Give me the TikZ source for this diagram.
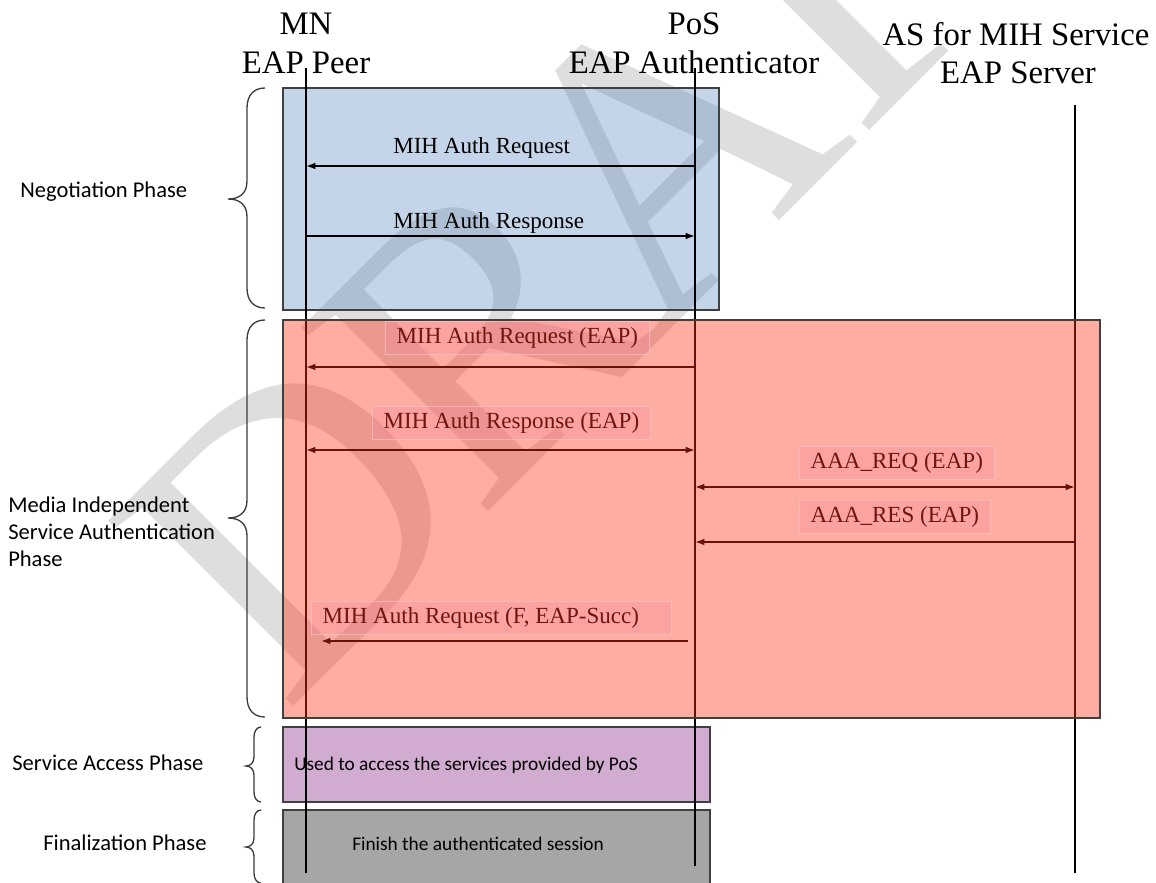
\documentclass[tikz,border=0pt]{standalone}
\usepackage{fontspec}
\setmainfont{Liberation Serif}
\newfontfamily\phasefont{Carlito}
\usetikzlibrary{arrows.meta}

\definecolor{boxedge}{RGB}{64,64,64}
\definecolor{wmgray}{RGB}{222,222,222}
\definecolor{negblue}{RGB}{79,129,189}
\definecolor{authred}{RGB}{255,50,25}
\definecolor{accesspurple}{RGB}{210,172,208}
\definecolor{finalgray}{RGB}{166,166,166}
\definecolor{lblfill}{RGB}{243,133,159}
\definecolor{lbledge}{RGB}{255,207,207}
\definecolor{darkred}{RGB}{110,22,16}
\definecolor{braceclr}{RGB}{60,60,60}

\begin{document}
\begin{tikzpicture}[x=0.75pt,y=-0.75pt,
  head/.style={anchor=base, inner sep=0, font=\fontsize{24.6}{28}\selectfont},
  phase/.style={anchor=base west, inner sep=0, align=left,
    font=\phasefont\fontsize{16.9}{20.25}\selectfont},
  note/.style={anchor=base west, inner sep=0, font=\phasefont\fontsize{14.5}{17}\selectfont},
  msgtxt/.style={anchor=base west, inner sep=0, font=\fontsize{17.3}{20}\selectfont},
  msglbl/.style={anchor=base west, inner xsep=8.5pt, inner ysep=4.5pt,
    fill=lblfill, fill opacity=0.25, draw=lbledge, draw opacity=0.5,
    text opacity=1, text=darkred, font=\fontsize{17.3}{20}\selectfont},
  watermark/.style={rotate=45, anchor=base west, inner sep=0, text=wmgray,
    font=\fontsize{300}{310}\selectfont},
  life/.style={draw=black, line width=1pt},
  tip/.tip={Latex[length=7pt,width=5pt]},
  msg/.style={draw=black, line width=1.1pt, -tip},
  dblmsg/.style={draw=black, line width=1.1pt, tip-tip},
  brace/.style={draw=braceclr, line width=1pt},
  negbox/.style={fill=negblue, fill opacity=0.33, draw=boxedge, line width=1.1pt},
  authbox/.style={fill=authred, fill opacity=0.4, draw=boxedge, line width=1.1pt},
  accessbox/.style={fill=accesspurple, draw=boxedge, line width=1.1pt},
  finalbox/.style={fill=finalgray, draw=boxedge, line width=1.1pt}]

\useasboundingbox (0,0) rectangle (1156,882);
\clip (0,0) rectangle (1156,882);

% background watermark
\node[watermark] (draft) at (285,715) {D\kern-0.04em R\kern-0.04em AFT};

% phase boxes below the lifelines
\draw[negbox] (283,88) rectangle (719,310);
\draw[accessbox] (283,727) rectangle (710,802);
\draw[finalbox] (283,810) rectangle (710,890);

% column headings
\node[head] (mnA) at (306,34) {MN};
\node[head] (mnB) at (306,73) {EAP Peer};
\node[head] (posA) at (694,34) {PoS};
\node[head] (posB) at (694,73) {EAP Authenticator};
\node[head] (asA) at (1016,45) {AS for MIH Service};
\node[head] (asB) at (1018,83) {EAP Server};

% lifelines
\coordinate (mnTop) at (306,68);
\coordinate (mnEnd) at (306,873);
\coordinate (posTop) at (695,68);
\coordinate (posEnd) at (695,866);
\coordinate (asTop) at (1075,105);
\coordinate (asEnd) at (1075,873);
\draw[life] (mnTop) -- (mnEnd);
\draw[life] (posTop) -- (posEnd);
\draw[life] (asTop) -- (asEnd);

% negotiation messages
\node[msgtxt] (nreq) at (393,153) {MIH Auth Request};
\draw[msg] (posTop |- 0,166) -- (mnTop |- 0,166);
\node[msgtxt] (nres) at (393,228) {MIH Auth Response};
\draw[msg] (mnTop |- 0,236) -- (posTop |- 0,236);

% authentication messages
\draw[msg] (posTop |- 0,367) -- (mnTop |- 0,367);
\draw[dblmsg] (mnTop |- 0,450) -- (posTop |- 0,450);
\draw[dblmsg] (posTop |- 0,487) -- (asTop |- 0,487);
\draw[msg] (asTop |- 0,542) -- (posTop |- 0,542);
\coordinate (succStart) at (688,641);
\coordinate (succEnd) at (321,641);
\draw[msg] (succStart) -- (succEnd);

% authentication phase box over its messages
\draw[authbox] (283,320) rectangle (1100,718);

\node[msglbl] (areq) at (385,343) {MIH Auth Request (EAP)};
\node[msglbl] (ares) at (372,428) {MIH Auth Response (EAP)};
\node[msglbl] (aaareq) at (799,468) {AAA\_REQ (EAP)};
\node[msglbl] (aaares) at (799,522) {AAA\_RES (EAP)};
\node[msglbl] (succ) at (311,623) {\makebox[253pt][l]{MIH Auth Request (F, EAP-Succ)}};

% box notes
\node[note] (access) at (294,770) {Used to access the services provided by PoS};
\node[note] (finish) at (352,850) {Finish the authenticated session};

% phase names and braces
\node[phase] (pneg) at (20,197) {Negotiation Phase};
\node[phase] (pauth) at (8,566) {Media Independent\\Service Authentication\\Phase};
\node[phase] (pacc) at (12,770) {Service Access Phase};
\node[phase] (pfin) at (43,850) {Finalization Phase};

\draw[brace] (265,88) .. controls (254,88) and (247,95) .. (247,108) -- (247,181)
  .. controls (247,193) and (240,199) .. (228,199)
  .. controls (240,199) and (247,205) .. (247,217) -- (247,288)
  .. controls (247,301) and (254,308) .. (265,308);
\draw[brace] (265,320) .. controls (254,320) and (247,327) .. (247,340) -- (247,500)
  .. controls (247,512) and (240,518) .. (228,518)
  .. controls (240,518) and (247,524) .. (247,536) -- (247,697)
  .. controls (247,710) and (254,717) .. (265,717);
\draw[brace] (261,727) .. controls (257,727) and (254,731) .. (254,737) -- (254,757)
  .. controls (254,763) and (250,766) .. (246,766)
  .. controls (250,766) and (254,769) .. (254,775) -- (254,792)
  .. controls (254,798) and (257,802) .. (261,802);
\draw[brace] (261,810) .. controls (257,810) and (254,814) .. (254,820) -- (254,838)
  .. controls (254,844) and (250,847) .. (246,847)
  .. controls (250,847) and (254,850) .. (254,856) -- (254,873)
  .. controls (254,879) and (257,883) .. (261,883);
\end{tikzpicture}
\end{document}
